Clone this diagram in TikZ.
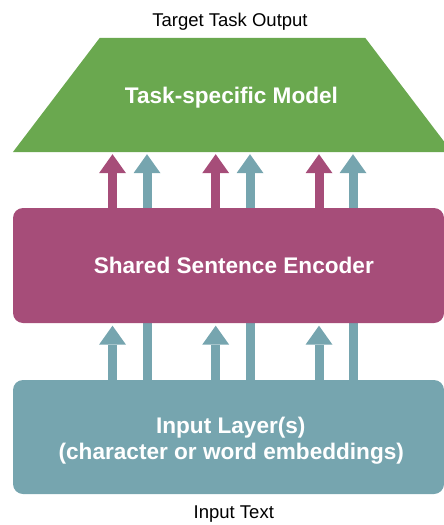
\documentclass[tikz,border=0pt]{standalone}
\usepackage{fontspec}
\setmainfont{Liberation Sans}
\usetikzlibrary{arrows.meta,backgrounds}

\definecolor{modelgreen}{HTML}{6AA84F}
\definecolor{encmagenta}{HTML}{A64D79}
\definecolor{inputteal}{HTML}{76A5AF}

\tikzset{
  caption/.style={anchor=base, inner sep=0pt, font=\fontsize{18.5}{22}\selectfont},
  boxtext/.style={anchor=base, inner sep=0pt, text=white,
                  font=\fontsize{22.6}{26}\selectfont\bfseries},
  layerbox/.style={rectangle, rounded corners=10pt, inner sep=0pt,
                   minimum width=431pt},
  uparrow/.style={line width=9pt,
                  -{Triangle[width=27pt,length=19pt,line width=0pt]}},
  flowline/.style={line width=9pt},
}

\begin{document}
\begin{tikzpicture}[x=1pt,y=-1pt]
  \clip (0,0) rectangle (444,525);

  % column positions of the flows
  \coordinate (c1) at (112.5,0);
  \coordinate (c2) at (147,0);
  \coordinate (c3) at (215.7,0);
  \coordinate (c4) at (250,0);
  \coordinate (c5) at (319,0);
  \coordinate (c6) at (353,0);

  % task-specific model (trapezoid)
  \node[rectangle, inner sep=0pt, minimum width=439pt, minimum height=114pt]
    (model) at (232.5,95) {};
  \fill[modelgreen] (model.south west) -- ([xshift=87pt]model.north west)
    -- ([xshift=-87pt]model.north east) -- (model.south east) -- cycle;

  % layers
  \node[layerbox, fill=encmagenta, minimum height=115pt] (enc) at (228.5,265.5) {};
  \node[layerbox, fill=inputteal, minimum height=114pt] (inp) at (228.5,437) {};

  % labels
  \node[caption] (out) at (230,26.7) {Target Task Output};
  \node[boxtext] (modeltxt) at (231.5,103.3) {Task-specific Model};
  \node[boxtext] (enctxt) at (233.8,273.3) {Shared Sentence Encoder};
  \node[boxtext] (inptxt1) at (230.8,433.3) {Input Layer(s)};
  \node[boxtext] (inptxt2) at (231.3,459) {(character or word embeddings)};
  \node[caption] (intext) at (233.8,518) {Input Text};

  % input features passed through the encoder up to the model
  \begin{pgfonlayer}{background}
    \foreach \c in {c2,c4,c6}
      \draw[uparrow, inputteal] (inp.north -| \c) -- ([yshift=-2pt]model.south -| \c);
  \end{pgfonlayer}

  % input features fed into the encoder
  \foreach \c in {c1,c3,c5}
    \draw[uparrow, inputteal] (inp.north -| \c) -- ([yshift=-2.5pt]enc.south -| \c);

  % encoder outputs fed into the model
  \foreach \c in {c1,c3,c5}
    \draw[uparrow, encmagenta] (enc.north -| \c) -- ([yshift=-2pt]model.south -| \c);
\end{tikzpicture}
\end{document}
